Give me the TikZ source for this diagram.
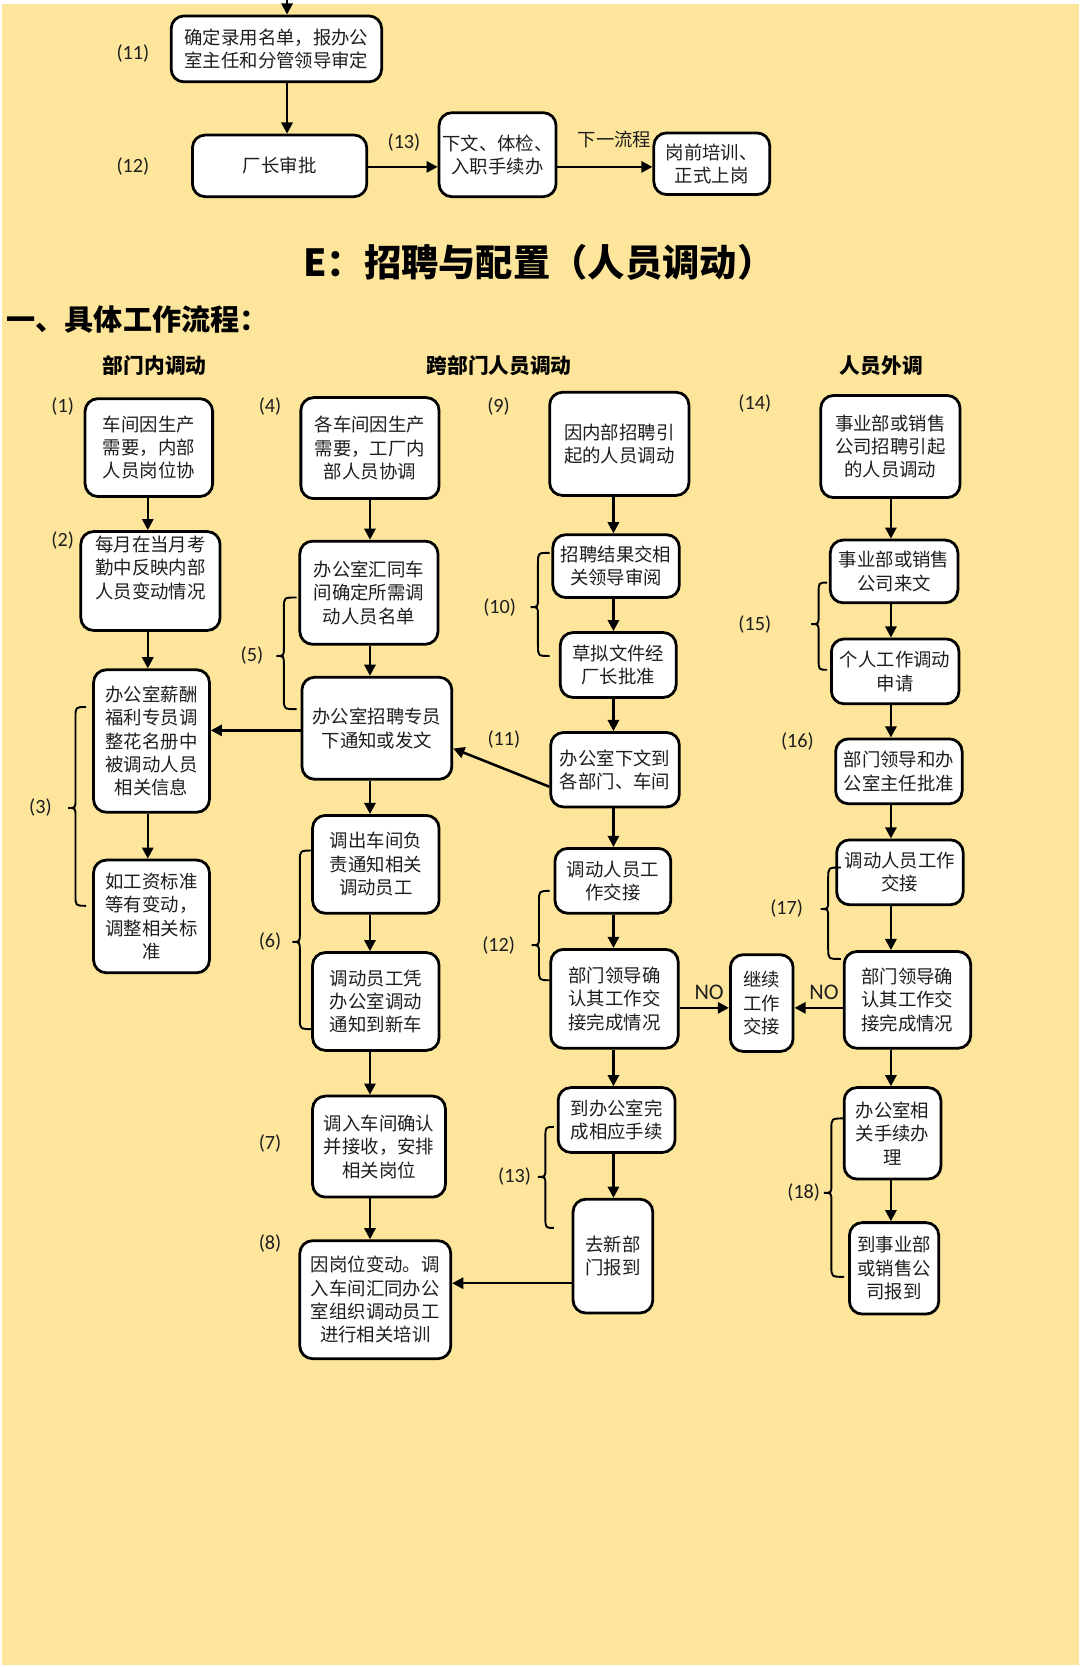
\documentclass[tikz,border=0pt]{standalone}
\usepackage{fontspec}
\setmainfont{Noto Sans CJK SC}
\newfontfamily\numf{Carlito}
\usetikzlibrary{arrows.meta}
\definecolor{bgY}{HTML}{FDE59B}
\definecolor{txt}{HTML}{1E1E1E}
\tikzset{
 box/.style={draw=black, line width=2.6pt, fill=white, rounded corners=12pt, align=center, inner sep=0pt, text=txt, font=\fontsize{17.3}{22}\selectfont},
 arr/.style={draw=black, line width=2.4pt, -{Triangle[length=10.5pt,width=10.5pt]}},
 num/.style={font=\numf\fontsize{19}{22}\selectfont, text=txt, inner sep=0pt},
 nolab/.style={font=\numf\fontsize{21}{22}\selectfont, text=txt, inner sep=0pt},
 brc/.style={draw=black, line width=1.8pt},
 hdr/.style={font=\bfseries\fontsize{19.5}{22}\selectfont, inner sep=0pt},
}
\newcommand\bx[6]{\node[box,minimum width={#4pt-2pt},minimum height={#5pt-2pt}] (#1) at (#2,#3) {#6};}
% #1 xline, #2 xend, #3 top, #4 bottom, #5 tip y
\newcommand\mybr[5]{\draw[brc] (#2,#3) .. controls (#1,#3) .. (#1,#3+10) -- (#1,#5-8) .. controls (#1,#5) .. (#1-7,#5) .. controls (#1,#5) .. (#1,#5+8) -- (#1,#4-10) .. controls (#1,#4) .. (#2,#4);}
\begin{document}
\begin{tikzpicture}[x=1pt,y=-1pt]
\useasboundingbox (0,0) rectangle (1016,1568);
\fill[white] (0,0) rectangle (1016,1568);
\fill[bgY] (2,4) rectangle (1015,1566);

% column / row coordinates
\coordinate (ctop) at (270,0);
\coordinate (topin) at (270,0);
\coordinate (rtop) at (0,157);
\coordinate (c1) at (139,0);
\coordinate (c2) at (348,0);
\coordinate (c3) at (577,0);
\coordinate (c4) at (838,0);
\coordinate (r5) at (0,687);
\coordinate (rno) at (0,948);
\coordinate (r8) at (0,1207);

% top part
\bx{n11}{260}{46}{200}{64}{确定录用名单，报办公\\室主任和分管领导审定}
\bx{n12}{263}{156}{166}{60}{厂长审批}
\bx{n13}{468}{145.5}{112}{81}{下文、体检、\\入职手续办}
\bx{nnext}{669.5}{154}{111}{60}{岗前培训、\\正式上岗}
\node[num] (l11t) at (125,50) {(11)};
\node[num] (l12t) at (125,157) {(12)};
\node[num] (l13t) at (380,134) {(13)};
\node[font=\fontsize{17.3}{22}\selectfont, text=txt, inner sep=0pt] (lnext) at (578,131) {下一流程};

\draw[arr] (topin) -- (n11.north -| ctop);
\draw[arr] (n11.south -| ctop) -- (n12.north -| ctop);
\draw[arr] (n12.east |- rtop) -- (n13.west |- rtop);
\draw[arr] (n13.east |- rtop) -- (nnext.west |- rtop);

% titles
\node[font=\bfseries\fontsize{35.1}{40}\selectfont, anchor=west, inner sep=0pt] (title) at (285,246.5) {E：招聘与配置（人员调动）};
\node[font=\bfseries\fontsize{27.4}{30}\selectfont, anchor=west, inner sep=0pt] (sub) at (6,300) {一、具体工作流程：};
\node[hdr] (h1) at (145.5,344) {部门内调动};
\node[hdr] (h2) at (469.5,344) {跨部门人员调动};
\node[hdr] (h3) at (829,344) {人员外调};

% column 1
\bx{b1}{140}{421}{122}{94}{车间因生产\\需要，内部\\人员岗位协}
\bx{b2}{141.5}{546.5}{133}{95}{每月在当月考\\勤中反映内部\\人员变动情况\\[4pt]}
\bx{b3a}{142.5}{697}{111}{136}{办公室薪酬\\福利专员调\\整花名册中\\被调动人员\\相关信息}
\bx{b3b}{142.5}{862}{111}{108}{如工资标准\\等有变动，\\调整相关标\\准}
\node[num] (l1) at (59,382) {(1)};
\node[num] (l2) at (59,508) {(2)};
\node[num] (l3) at (38,760) {(3)};
\mybr{71}{81}{665}{852}{760}
\draw[arr] (b1.south -| c1) -- (b2.north -| c1);
\draw[arr] (b2.south -| c1) -- (b3a.north -| c1);
\draw[arr] (b3a.south -| c1) -- (b3b.north -| c1);

% column 2
\bx{b4}{348}{421.5}{132}{97}{各车间因生产\\需要，工厂内\\部人员协调}
\bx{b5a}{347}{557.5}{132}{99}{办公室汇同车\\间确定所需调\\动人员名单}
\bx{b5b}{354.5}{685}{143}{98}{办公室招聘专员\\下通知或发文}
\bx{b6a}{353.5}{813}{121}{94}{调出车间负\\责通知相关\\调动员工}
\bx{b6b}{353.5}{942}{121}{94}{调动员工凭\\办公室调动\\通知到新车}
\bx{b7}{356.5}{1078.5}{127}{97}{调入车间确认\\并接收，安排\\相关岗位}
\bx{b8}{353}{1222.5}{144}{113}{因岗位变动。调\\入车间汇同办公\\室组织调动员工\\进行相关培训}
\node[num] (l4) at (254,382) {(4)};
\node[num] (l5) at (237,617) {(5)};
\node[num] (l6) at (254,886) {(6)};
\node[num] (l7) at (254,1076) {(7)};
\node[num] (l8) at (254,1170) {(8)};
\mybr{267}{279}{562}{667}{617}
\mybr{282}{295}{800}{968}{886}
\draw[arr] (b4.south -| c2) -- (b5a.north -| c2);
\draw[arr] (b5a.south -| c2) -- (b5b.north -| c2);
\draw[arr] (b5b.south -| c2) -- (b6a.north -| c2);
\draw[arr] (b6a.south -| c2) -- (b6b.north -| c2);
\draw[arr] (b6b.south -| c2) -- (b7.north -| c2);
\draw[arr] (b7.south -| c2) -- (b8.north -| c2);
\draw[arr] (b5b.west |- r5) -- (b3a.east |- r5);

% column 3
\bx{b9}{582.5}{417.5}{133}{99}{因内部招聘引\\起的人员调动}
\bx{b10a}{579.5}{532.5}{121}{61}{招聘结果交相\\关领导审阅}
\bx{b10b}{581.5}{625.5}{111}{63}{草拟文件经\\厂长批准}
\bx{b11}{578.5}{724}{123}{72}{办公室下文到\\各部门、车间}
\bx{b12a}{576.5}{828.5}{111}{63}{调动人员工\\作交接}
\bx{b12b}{578}{939.5}{122}{95}{部门领导确\\认其工作交\\接完成情况}
\bx{b13a}{580}{1053.5}{112}{63}{到办公室完\\成相应手续}
\bx{b13b}{576.5}{1181.5}{77}{109}{去新部\\门报到}
\node[num] (l9) at (469,382) {(9)};
\node[num] (l10) at (470,571) {(10)};
\node[num] (l11) at (474,696) {(11)};
\node[num] (l12) at (469,889) {(12)};
\node[num] (l13) at (484,1107) {(13)};
\mybr{506}{517}{520}{617}{571}
\mybr{507}{517}{838}{922}{889}
\mybr{513}{521}{1060}{1155}{1107}
\draw[arr] (b9.south -| c3) -- (b10a.north -| c3);
\draw[arr] (b10a.south -| c3) -- (b10b.north -| c3);
\draw[arr] (b10b.south -| c3) -- (b11.north -| c3);
\draw[arr] (b11.south -| c3) -- (b12a.north -| c3);
\draw[arr] (b12a.south -| c3) -- (b12b.north -| c3);
\draw[arr] (b12b.south -| c3) -- (b13a.north -| c3);
\draw[arr] (b13a.south -| c3) -- (b13b.north -| c3);
\draw[arr] ([yshift=-16pt]b11.west) -- ([yshift=-19pt]b5b.east);
\draw[arr] (b13b.west |- r8) -- (b8.east |- r8);

% middle
\bx{bcont}{716.5}{943.5}{61}{93}{继续\\工作\\交接}
\node[nolab] (no1) at (667,933) {NO};
\node[nolab] (no2) at (775,933) {NO};

% column 4
\bx{b14}{837.5}{420}{133}{98}{事业部或销售\\公司招聘引起\\的人员调动}
\bx{b15a}{841}{537.5}{122}{61}{事业部或销售\\公司来文}
\bx{b15b}{842}{631.5}{122}{63}{个人工作调动\\申请}
\bx{b16}{845.5}{725.5}{121}{63}{部门领导和办\\公室主任批准}
\bx{b17a}{846.5}{820.5}{121}{63}{调动人员工作\\交接}
\bx{b17b}{853.5}{940.5}{121}{93}{部门领导确\\认其工作交\\接完成情况}
\bx{b18a}{839.5}{1066}{93}{88}{办公室相\\关手续办\\理}
\bx{b18b}{841}{1193}{86}{88}{到事业部\\或销售公\\司报到}
\node[num] (l14) at (710,380) {(14)};
\node[num] (l15) at (710,587) {(15)};
\node[num] (l16) at (750,697) {(16)};
\node[num] (l17) at (740,855) {(17)};
\node[num] (l18) at (756,1122) {(18)};
\mybr{770}{778}{548}{630}{587}
\mybr{779}{791}{816}{902}{855}
\mybr{782}{794}{1052}{1201}{1122}
\draw[arr] (b14.south -| c4) -- (b15a.north -| c4);
\draw[arr] (b15a.south -| c4) -- (b15b.north -| c4);
\draw[arr] (b15b.south -| c4) -- (b16.north -| c4);
\draw[arr] (b16.south -| c4) -- (b17a.north -| c4);
\draw[arr] (b17a.south -| c4) -- (b17b.north -| c4);
\draw[arr] (b17b.south -| c4) -- (b18a.north -| c4);
\draw[arr] (b18a.south -| c4) -- (b18b.north -| c4);

\draw[arr] (b12b.east |- rno) -- (bcont.west |- rno);
\draw[arr] (b17b.west |- rno) -- (bcont.east |- rno);
\end{tikzpicture}
\end{document}
